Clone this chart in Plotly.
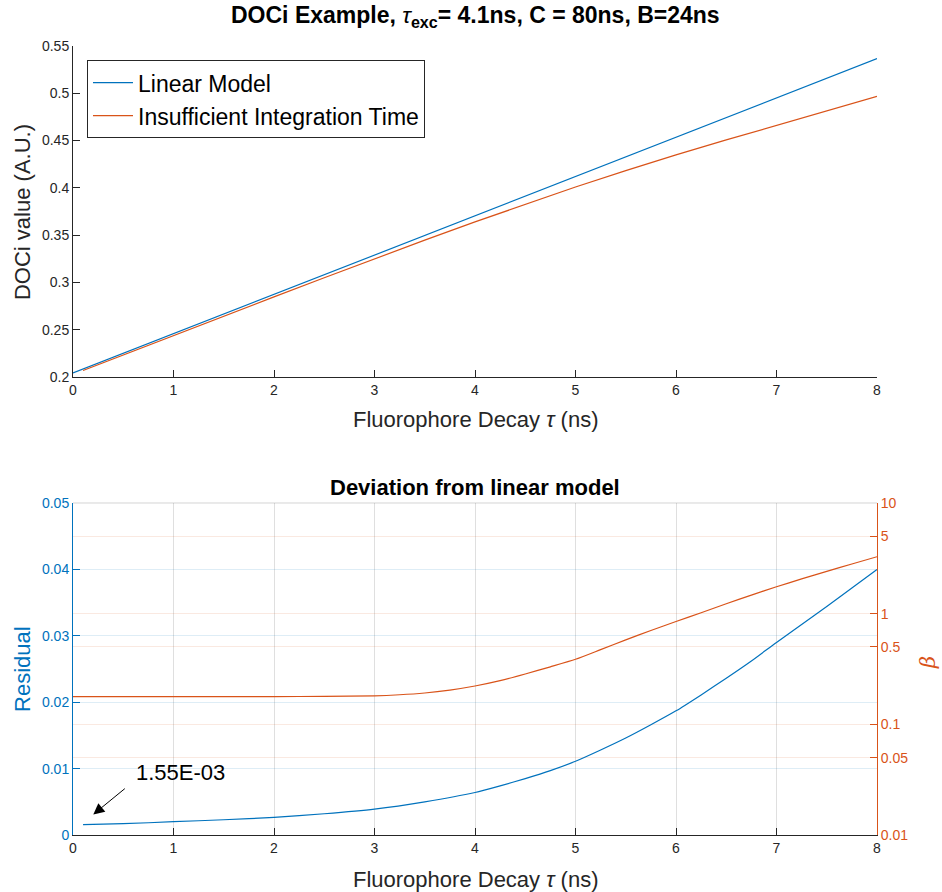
import plotly.graph_objects as go

# ---- data ----
tau_lin = [0, 1, 2, 3, 4, 5, 6, 7, 8]
doci_linear = [0.2042, 0.2458, 0.2873, 0.3289, 0.3704, 0.4120, 0.4536, 0.4951, 0.5367]

tau = [0.1, 0.5, 1, 1.5, 2, 2.5, 3, 3.5, 4, 4.5, 5, 5.5, 6, 6.5, 7, 7.5, 8]
doci_insuff = [0.2068, 0.2233, 0.2438, 0.2642, 0.2847, 0.3049, 0.3250, 0.3447, 0.3640,
               0.3827, 0.4009, 0.4182, 0.4349, 0.4507, 0.4661, 0.4815, 0.4967]

tau_res = [0.1, 0.5, 1, 1.5, 2, 2.5, 3, 3.5, 4, 4.25, 4.5, 4.75, 5, 5.25, 5.5, 5.75, 6,
           6.25, 6.5, 6.75, 7, 7.25, 7.5, 7.75, 8]
residual = [0.00155, 0.0017, 0.0020, 0.0023, 0.00265, 0.0032, 0.0039, 0.0050, 0.0064,
            0.0074, 0.0085, 0.0097, 0.0111, 0.0128, 0.0146, 0.0166, 0.0187,
            0.0211, 0.0236, 0.0262, 0.0290, 0.0317, 0.0344, 0.0372, 0.0400]

tau_beta = [0, 0.5, 1, 1.5, 2, 2.5, 3, 3.25, 3.5, 3.75, 4, 4.25, 4.5, 4.75, 5, 5.25, 5.5,
            5.75, 6, 6.25, 6.5, 6.75, 7, 7.25, 7.5, 7.75, 8]
beta = [0.178, 0.178, 0.178, 0.178, 0.178, 0.179, 0.181, 0.185, 0.192, 0.204, 0.222,
        0.248, 0.285, 0.331, 0.387, 0.473, 0.58, 0.705, 0.85, 1.02, 1.23, 1.47, 1.75,
        2.06, 2.41, 2.81, 3.27]

x_ticks = [0, 1, 2, 3, 4, 5, 6, 7, 8]
beta_ticks = [0.01, 0.05, 0.1, 0.5, 1, 5, 10]
beta_tick_labels = ["0.01", "0.05", "0.1", "0.5", "1", "5", "10"]

BLUE = "#0072BD"
ORANGE = "#D95319"
AX = "#262626"
FONT = "Arial, Liberation Sans, sans-serif"
BIG = 22

fig = go.Figure()

fig.add_trace(go.Scatter(x=tau_lin, y=doci_linear, mode="lines", name="Linear Model",
                         line=dict(color=BLUE, width=1.2), xaxis="x", yaxis="y"))
fig.add_trace(go.Scatter(x=tau, y=doci_insuff, mode="lines", name="Insufficient Integration Time",
                         line=dict(color=ORANGE, width=1.2), xaxis="x", yaxis="y"))
fig.add_trace(go.Scatter(x=tau_res, y=residual, mode="lines", showlegend=False,
                         line=dict(color=BLUE, width=1.2, shape="spline", smoothing=0.6),
                         xaxis="x2", yaxis="y2"))
fig.add_trace(go.Scatter(x=tau_beta, y=beta, mode="lines", showlegend=False,
                         line=dict(color=ORANGE, width=1.2, shape="spline", smoothing=0.6),
                         xaxis="x2", yaxis="y3"))

tick_common = dict(ticks="inside", ticklen=7, showline=True, linewidth=1, zeroline=False)

fig.update_layout(
    width=942, height=892,
    margin=dict(l=73, r=65, t=46, b=57),
    paper_bgcolor="white", plot_bgcolor="white",
    font=dict(family=FONT, size=14, color=AX),
    showlegend=True,
    legend=dict(x=0.0174, y=0.982, xanchor="left", yanchor="top",
                bordercolor=AX, borderwidth=1, bgcolor="white",
                font=dict(size=23, color="#000000"),
                tracegroupgap=0, itemwidth=40),
    xaxis=dict(domain=[0, 1], anchor="y", range=[0, 8], tickvals=x_ticks,
               linecolor=AX, tickcolor=AX, showgrid=False, **tick_common),
    yaxis=dict(domain=[0.5805, 1], anchor="x", range=[0.2, 0.55], dtick=0.05,
               linecolor=AX, tickcolor=AX, showgrid=False, **tick_common),
    xaxis2=dict(domain=[0, 1], anchor="y2", range=[0, 8], tickvals=x_ticks,
                linecolor=AX, tickcolor=AX, showgrid=True, gridcolor="rgba(38,38,38,0.15)",
                **tick_common),
    yaxis2=dict(domain=[0, 0.4208], anchor="x2", range=[0, 0.05], dtick=0.01,
                linecolor=BLUE, tickcolor=BLUE, tickfont=dict(color=BLUE, size=14),
                showgrid=True, gridcolor="rgba(0,114,189,0.13)", **tick_common),
    yaxis3=dict(overlaying="y2", side="right", anchor="x2", type="log", range=[-2, 1],
                tickvals=beta_ticks, ticktext=beta_tick_labels,
                linecolor=ORANGE, tickcolor=ORANGE, tickfont=dict(color=ORANGE, size=14),
                showgrid=True, gridcolor="rgba(217,83,25,0.13)", **tick_common),
)

# top border line of bottom axes (MATLAB box)
fig.add_shape(type="line", xref="x2 domain", yref="y2 domain", x0=0, x1=1, y0=1, y1=1,
              line=dict(color="rgba(38,38,38,0.2)", width=1))

def ann(text, x, y, size, color, angle=0, family=FONT):
    fig.add_annotation(text=text, xref="paper", yref="paper", x=x, y=y,
                       xanchor="center", yanchor="middle", showarrow=False, textangle=angle,
                       font=dict(size=size, color=color, family=family))

# titles
ann("<b>DOCi Example, </b><i>τ</i><b><sub>exc</sub>= 4.1ns, C = 80ns, B=24ns</b>",
    0.5, 1.0368, 23, "#000000")
ann("<b>Deviation from linear model</b>", 0.5, 0.4398, BIG, "#000000")

# axis titles
ann("Fluorophore Decay <i>τ</i> (ns)", 0.5, 0.5272, BIG, AX)
ann("Fluorophore Decay <i>τ</i> (ns)", 0.5, -0.0570, BIG, AX)
ann("DOCi value (A.U.)", -0.0634, 0.7896, BIG, AX, angle=-90)
ann("Residual", -0.0622, 0.2104, BIG, BLUE, angle=-90)
ann("<i>β</i>", 1.0634, 0.2193, 21, ORANGE, angle=-90, family="DejaVu Serif, serif")

# arrow annotation
fig.add_annotation(x=0.202, y=0.0031, xref="x2", yref="y2",
                   ax=33, ay=-27, axref="pixel", ayref="pixel",
                   text="", showarrow=True, arrowhead=2, arrowsize=2.2, arrowwidth=1,
                   arrowcolor="#000000")
fig.add_annotation(x=1.065, y=0.0094, xref="x2", yref="y2", text="1.55E-03",
                   showarrow=False, font=dict(size=BIG, color="#000000", family=FONT))

fig.write_html("out.html")
